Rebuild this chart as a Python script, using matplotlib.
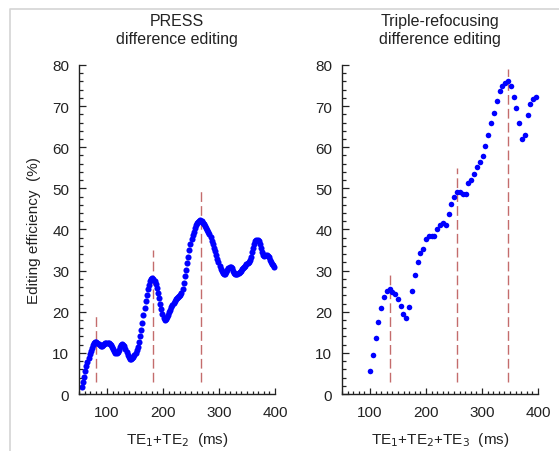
import numpy as np
import matplotlib
matplotlib.use("Agg")
import matplotlib.pyplot as plt
from matplotlib.lines import Line2D
from matplotlib.ticker import MultipleLocator

plt.rcParams['font.family'] = ['Liberation Sans', 'DejaVu Sans']

# PRESS difference editing: efficiency (%) vs TE1+TE2, every 2 ms from 55 ms
press_te = np.arange(55, 400, 2)
press_eff = [
    1.6, 2.8, 4.2, 5.5, 6.7, 7.8, 8.8, 9.7, 10.5, 11.2,
    11.8, 12.3, 12.6, 12.6, 12.4, 12.2, 11.9, 11.7, 11.7, 11.9,
    12.1, 12.3, 12.4, 12.4, 12.3, 12.1, 11.8, 11.4, 10.9, 10.4,
    10.0, 9.9, 10.2, 10.8, 11.4, 11.9, 12.1, 12.0, 11.6, 11.0,
    10.2, 9.4, 8.9, 8.6, 8.6, 8.8, 9.1, 9.5, 10.0, 10.6,
    11.5, 12.6, 14.0, 15.6, 17.3, 19.1, 20.9, 22.6, 24.1, 25.5,
    26.6, 27.4, 27.9, 28.1, 28.0, 27.5, 26.8, 25.8, 24.6, 23.3,
    22.0, 20.7, 19.5, 18.6, 18.1, 18.2, 18.7, 19.3, 19.9, 20.5,
    21.1, 21.7, 22.2, 22.7, 23.1, 23.4, 23.7, 23.9, 24.1, 24.5,
    25.5, 27.0, 28.6, 30.2, 31.8, 33.4, 35.0, 36.4, 37.6, 38.6,
    39.5, 40.3, 41.0, 41.5, 41.9, 42.1, 42.2, 42.0, 41.7, 41.3,
    40.9, 40.4, 39.9, 39.4, 38.8, 38.1, 37.3, 36.5, 35.6, 34.7,
    33.8, 32.9, 32.0, 31.2, 30.5, 29.9, 29.5, 29.3, 29.3, 29.6,
    30.1, 30.6, 31.0, 31.0, 30.6, 30.0, 29.5, 29.2, 29.1, 29.2,
    29.4, 29.7, 30.0, 30.3, 30.6, 30.9, 31.2, 31.5, 31.8, 32.1,
    32.6, 33.4, 34.5, 35.6, 36.5, 37.1, 37.4, 37.4, 37.1, 36.5,
    35.6, 34.6, 33.9, 33.6, 33.7, 33.8, 33.6, 33.2, 32.7, 32.2,
    31.7, 31.3, 30.9,
]

# Triple-refocusing difference editing: efficiency (%) vs TE1+TE2+TE3
triple_te = [
    99.4, 104.7, 110.0, 114.8, 120.1, 124.9, 129.5, 134.9, 139.7, 145.0,
    149.8, 155.2, 159.8, 164.6, 169.9, 175.3, 180.0, 185.4, 190.0, 194.8,
    200.2, 205.5, 210.3, 215.0, 220.3, 225.1, 230.4, 235.2, 240.6, 245.2,
    250.5, 255.3, 260.7, 265.5, 270.8, 275.4, 280.8, 285.6, 290.9, 295.7,
    301.0, 305.7, 311.0, 315.8, 321.2, 326.0, 331.3, 336.0, 341.3, 346.6,
    351.4, 356.8, 361.6, 366.2, 371.5, 376.3, 381.7, 386.5, 391.8, 396.4,
]
triple_eff = [
    5.7, 9.6, 13.5, 17.5, 20.8, 23.6, 25.1, 25.5, 24.7, 24.3,
    23.2, 21.5, 19.4, 18.5, 21.1, 25.1, 28.9, 32.1, 34.4, 35.3,
    37.6, 38.5, 38.3, 38.4, 40.1, 41.1, 41.7, 41.2, 43.8, 46.1,
    47.8, 49.1, 49.1, 48.6, 48.6, 51.2, 52.0, 53.6, 55.3, 56.5,
    57.9, 60.3, 62.9, 66.0, 68.3, 71.2, 73.7, 74.9, 75.7, 76.1,
    74.9, 72.3, 69.5, 65.9, 61.9, 62.9, 67.9, 70.5, 71.7, 72.2,
]

# dashed markers at the efficiency maxima
press_peaks = [80, 182, 268]
press_peak_top = [19.5, 35, 50]
triple_peaks = [135, 256, 347]
triple_peak_top = [30, 55, 79]

titles = ["PRESS\ndifference editing", "Triple-refocusing\ndifference editing"]
xlabels = [r"TE$_1$+TE$_2$  (ms)", r"TE$_1$+TE$_2$+TE$_3$  (ms)"]
msizes = [4.4, 4.0]

fig = plt.figure(figsize=(5.59, 4.52), dpi=100)
ax1 = fig.add_axes([0.1413, 0.1261, 0.3506, 0.7279])
ax2 = fig.add_axes([0.6118, 0.1261, 0.3506, 0.7279])

# light frame at the top / left edge
fig.add_artist(Line2D([9.5 / 559, 9.5 / 559, 1], [0, 1 - 9.5 / 452, 1 - 9.5 / 452],
                      transform=fig.transFigure, color='#d4d4d4', lw=1.2))

datasets = [
    (press_te, press_eff, press_peaks, press_peak_top),
    (triple_te, triple_eff, triple_peaks, triple_peak_top),
]

for i, (ax, (x, y, pk, pk_top)) in enumerate(zip([ax1, ax2], datasets)):
    ax.vlines(pk, 3, pk_top, colors='#c46c6c', linewidth=1.0,
              linestyles=(0, (7, 3)), zorder=1)
    ax.plot(x, y, 'o', color='#0000ff', markersize=msizes[i], markeredgewidth=0,
            zorder=2, clip_on=False)
    ax.set_xlim(50, 400)
    ax.set_ylim(0, 80)
    ax.xaxis.set_major_locator(MultipleLocator(100))
    ax.xaxis.set_minor_locator(MultipleLocator(10))
    ax.yaxis.set_major_locator(MultipleLocator(10))
    ax.yaxis.set_minor_locator(MultipleLocator(2))
    ax.spines['top'].set_visible(False)
    ax.spines['right'].set_visible(False)
    for s in ['left', 'bottom']:
        ax.spines[s].set_linewidth(1.0)
        ax.spines[s].set_color('#222222')
    ax.tick_params(axis='both', which='both', direction='in', colors='#222222',
                   labelsize=11, width=0.9)
    ax.tick_params(axis='y', which='major', length=5, pad=7)
    ax.tick_params(axis='y', which='minor', length=3.2)
    ax.tick_params(axis='x', which='major', length=4.5, pad=8)
    ax.tick_params(axis='x', which='minor', length=2.4)
    ax.set_title(titles[i], fontsize=11.5, color='#222222', linespacing=1.25, pad=16)
    ax.set_xlabel(xlabels[i], fontsize=11, color='#222222', labelpad=8)

ax1.set_ylabel("Editing efficiency  (%)", fontsize=11, color='#222222', labelpad=8)

fig.savefig("out.png", dpi=100)
